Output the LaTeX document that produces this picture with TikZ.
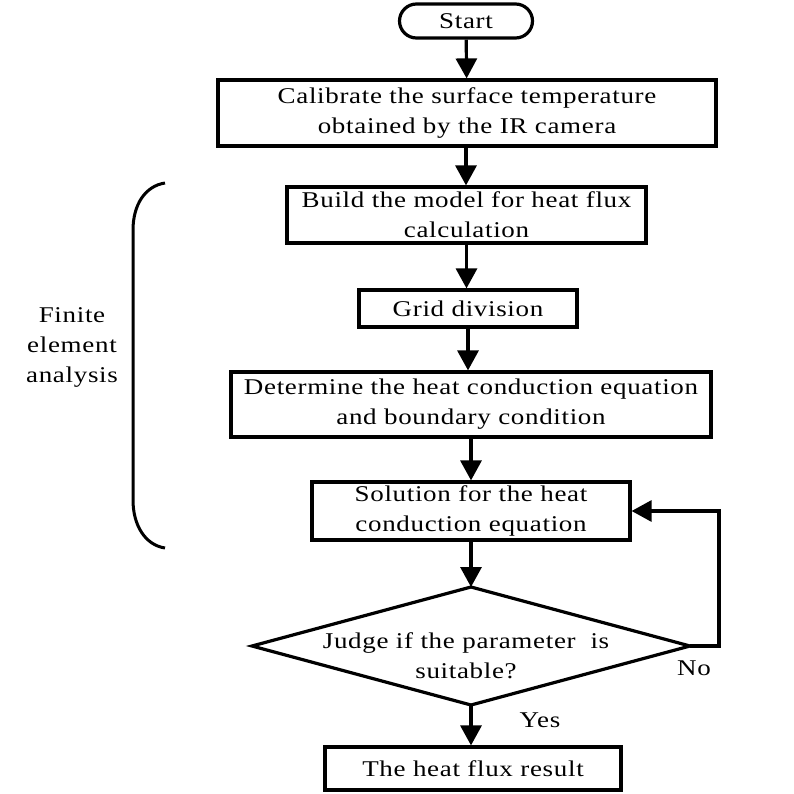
\documentclass[tikz,border=0pt]{standalone}
\usepackage{fontspec}
\setmainfont{Liberation Serif}[FakeStretch=1.2,LetterSpace=3]
\usetikzlibrary{shapes.geometric,arrows.meta}
\begin{document}
\begin{tikzpicture}[x=1pt,y=-1pt,
  box/.style={draw,line width=3.2pt,align=center,inner sep=0pt,font=\fontsize{22.5}{30}\selectfont},
  lbl/.style={align=center,font=\fontsize{22.5}{30}\selectfont},
  arr/.style={line width=3.2pt,-{Triangle[length=20pt,width=21pt]}}]
\useasboundingbox (0,0) rectangle (794,794);
\node[box,rounded corners=17pt,minimum width=133pt,minimum height=34pt] (start) at (466,21) {Start};
\node[box,minimum width=498pt,minimum height=66pt] (b1) at (467,113) {Calibrate the surface temperature\\obtained by the IR camera};
\node[box,minimum width=359pt,minimum height=56pt] (b2) at (466.5,215) {Build the model for heat flux\\calculation};
\node[box,minimum width=218pt,minimum height=37pt] (b3) at (468,308.5) {Grid division};
\node[box,minimum width=480pt,minimum height=65pt] (b4) at (471,404.5) {Determine the heat conduction equation\\and boundary condition};
\node[box,minimum width=318pt,minimum height=58pt] (b5) at (471,511) {Solution for the heat\\conduction equation};
\coordinate (dt) at (471,587);
\coordinate (db) at (471,705);
\coordinate (dl) at (252,646);
\coordinate (dr) at (690,646);
\draw[line width=3.2pt,line join=miter] (dt) -- (dr) -- (db) -- (dl) -- cycle;
\node[lbl] (dtext) at (466,656) {Judge if the parameter\ \ is\\suitable?};
\node[box,minimum width=296pt,minimum height=43pt] (b6) at (473,768.5) {The heat flux result};
\draw[arr] (start) -- (b1);
\draw[arr] (b1.south -| start) -- (b2.north -| start);
\draw[arr] (b2) -- (b2|-b3.north);
\draw[arr] (b3) -- (b3|-b4.north);
\draw[arr] (b4.south -| dt) -- (b5.north -| dt);
\draw[arr] (b5) -- (dt);
\draw[arr] (db) -- (b6.north -| db);
\coordinate (fr) at (719,646);
\draw[arr] (dr) -- (fr) -- (fr|-b5.east) -- (b5.east);
\node[lbl] (no) at (694,668) {No};
\node[lbl] (yes) at (540,720) {Yes};
\draw[line width=3pt] (165,183) .. controls (145,186) and (133,205) .. (133,230) -- (133,500) .. controls (133,525) and (145,545) .. (165,548);
\node[lbl] (fea) at (72,347) {Finite\\element\\analysis};
\end{tikzpicture}
\end{document}
